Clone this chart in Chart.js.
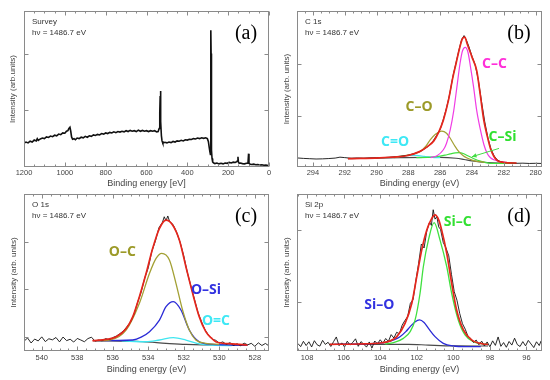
<!DOCTYPE html>
<html>
<head>
<meta charset="utf-8">
<script src="https://cdn.jsdelivr.net/npm/chart.js@4.4.1/dist/chart.umd.min.js"></script>
<style>
  body { margin: 0; background: #fff; }
  #wrap { position: relative; width: 550px; height: 380px; overflow: hidden; }
  canvas { position: absolute; }
</style>
</head>
<body>
<div id="wrap">
  <canvas id="pa" width="275" height="192" style="left:0;top:0"></canvas>
  <canvas id="pb" width="275" height="192" style="left:275px;top:0"></canvas>
  <canvas id="pc" width="275" height="190" style="left:0;top:190px"></canvas>
  <canvas id="pd" width="275" height="190" style="left:275px;top:190px"></canvas>
</div>
<script>
// values: [binding energy, intensity]
const survey = [[1200,42],[1190,44],[1180,42.5],[1170,45.5],[1160,44],[1150,47.5],[1140,46],[1135,50],[1130,47],[1120,49.5],[1110,51],[1100,50],[1090,53],[1080,52],[1070,54.5],[1060,53.5],[1050,56],[1040,55],[1030,58],[1020,57],[1010,60],[1000,59.5],[992,63],[985,64],[980,68],[975,70],[971,63],[967,53],[962,49],[955,50],[948,48],[940,51],[930,50],[920,52.5],[910,51.5],[900,54],[890,52.5],[880,55],[870,54],[860,56.5],[850,55.5],[840,57.5],[830,56.5],[820,59],[810,58],[800,60],[790,59],[780,61],[770,60],[760,62],[750,60.5],[740,62.5],[730,61.5],[720,63],[710,62],[700,64],[690,62.5],[680,64.5],[670,63],[660,64],[650,62.5],[640,65],[630,63],[620,64.5],[610,63],[600,64],[590,62.5],[580,64],[570,63],[560,64],[550,62],[543,62.5],[538,68],[535,95],[533,125],[532,134],[531,120],[529,80],[527,55],[524,46],[520,42],[510,43.5],[500,42.5],[490,44],[480,43],[470,45],[460,44],[450,46],[440,45.5],[430,47],[420,46],[410,48],[400,47.5],[390,49],[380,48.5],[370,50],[360,49.5],[350,51],[340,50],[330,51.5],[320,50.5],[310,51.5],[302,50],[297,45],[293,35],[289,26],[287,22],[285.5,90],[284.5,241],[283.5,200],[282.5,90],[281,30],[279,15],[276,9],[272,7.5],[265,6],[255,7],[245,5.5],[235,6.5],[225,5.5],[215,7],[205,6.5],[195,8],[185,7],[175,8.5],[165,8],[158,9.5],[154,11],[152,18],[150,9],[146,6.5],[140,7],[130,6],[120,5.5],[110,6.5],[103,7],[100,23.5],[98,7],[94,5],[85,4.5],[75,5],[65,4],[55,4.5],[45,3.5],[35,4],[25,3],[15,3.5],[5,2.5],[0,2]];

const c1sData = [[295,4.4],[294.6,4.1],[294.2,3.9],[293.8,3.7],[293.4,3.8],[293,4.0],[292.6,4.3],[292.3,4.9],[292,4.6],[291.6,4.2],[291.2,4.3],[290.8,4.1],[290.4,4.4],[290,4.5],[289.6,4.6],[289.2,4.8],[288.8,5.2],[288.4,5.6],[288,6.2],[287.6,7.2],[287.2,8.9],[286.8,11.6],[286.5,14.5],[286.2,19.5],[286.0,23],[285.8,29.5],[285.6,37],[285.4,46],[285.2,57.5],[285.0,66.5],[284.8,75.5],[284.65,81.5],[284.5,84],[284.35,81],[284.2,77],[284.0,70.5],[283.8,65],[283.6,55],[283.4,41],[283.2,28],[283.0,17.5],[282.8,10],[282.6,5.6],[282.4,3.0],[282.2,1.9],[282,1.4],[281.6,1.1],[281.2,0.9],[280.8,1.0],[280.4,0.8],[280,0.9],[279.6,0.8]];
const c1sFit = [[291.8,3.9],[291.0,4.1],[290.1,4.3],[289.0,4.9],[288.1,5.8],[287.3,8.5],[286.8,11.8],[286.4,15.5],[286.1,21],[285.8,29],[285.5,41],[285.2,57],[285.0,66],[284.8,75],[284.6,82],[284.45,83],[284.3,78.5],[284.0,70],[283.7,61],[283.5,47],[283.26,29],[283.05,19],[282.84,10.5],[282.63,5.5],[282.42,2.8],[282.2,1.8],[281.7,1.2],[281.2,1.1]];
const c1sCC = [[286.6,4.6],[286.2,5.8],[285.8,9.7],[285.6,14],[285.37,22.6],[285.15,35],[284.95,50.5],[284.75,66],[284.6,74],[284.42,76.3],[284.25,73],[284.1,64],[283.9,50.5],[283.7,35],[283.47,22.6],[283.25,13],[283.05,7.5],[282.84,4.5],[282.63,3.2],[282.3,2.2],[281.8,1.5]];
const c1sCO = [[288.9,4.6],[288.5,5.4],[288.0,6.3],[287.6,7.3],[287.26,8.6],[286.9,12],[286.63,16.1],[286.3,19.8],[285.9,21.9],[285.6,20.5],[285.37,17.2],[285.1,12.5],[284.84,8.6],[284.55,5.8],[284.31,4.3],[284.0,3],[283.68,2.2],[283.2,1.6]];
const c1sCSi = [[287.5,4.6],[286.8,4.7],[286.42,5.0],[286.0,5.6],[285.7,6.2],[285.37,7.0],[285.05,7.7],[284.8,7.9],[284.55,7.3],[284.3,6.0],[284.1,5.0],[283.8,3.5],[283.47,2.3],[283.1,1.3],[282.84,0.9],[282.4,0.8],[281.8,0.8],[281.3,0.8]];
const c1sCeqO = [[289.8,4.4],[289.0,4.8],[288.4,5.5],[287.9,6.0],[287.5,6.0],[287.0,5.4],[286.5,4.8],[286.0,4.6]];
const c1sBg = [[291.8,4.0],[290,4.3],[288.5,4.6],[287,4.8],[286,4.8],[285,4.2],[284.5,3.4],[284,2.5],[283.5,1.8],[283,1.3],[282,1.0],[281.2,0.9]];

const o1sData = [[541.0,6.2],[540.8,8.3],[540.6,5.1],[540.4,7.6],[540.2,6.4],[540.0,9.0],[539.8,6.0],[539.6,7.8],[539.4,7.1],[539.2,8.6],[539.0,5.8],[538.8,8.9],[538.6,6.6],[538.4,7.5],[538.2,5.7],[538.0,8.0],[537.8,7.0],[537.6,5.9],[537.4,7.9],[537.2,8.8],[537.0,6.3],[536.8,7.0],[536.6,6.5],[536.4,7.9],[536.2,7.2],[536.0,8.5],[535.8,9.5],[535.6,11.0],[535.4,12.8],[535.2,15.5],[535.0,18.5],[534.8,23.5],[534.6,31.0],[534.4,37.5],[534.2,46.5],[534.0,53.0],[533.8,63.5],[533.6,70.0],[533.4,78.5],[533.2,82.0],[533.1,85.5],[533.0,83.0],[532.9,86.0],[532.8,82.5],[532.6,80.5],[532.4,75.5],[532.2,69.0],[532.0,60.5],[531.8,50.0],[531.6,41.5],[531.4,33.0],[531.2,24.5],[531.0,18.5],[530.8,13.5],[530.6,10.0],[530.4,7.5],[530.2,6.8],[530.0,5.0],[529.8,5.8],[529.6,4.2],[529.4,5.3],[529.2,3.6],[529.0,4.6],[528.8,3.4],[528.6,5.0],[528.4,3.9],[528.2,4.9],[528.0,3.0],[527.8,5.2],[527.6,3.5],[527.4,4.8],[527.2,3.2]];
const o1sFit = [[537.15,6.6],[536.36,7.4],[535.8,9.1],[535.24,14.4],[534.87,21.9],[534.5,34.6],[534.12,49.5],[533.75,65.4],[533.37,78.1],[533.0,83.4],[532.63,80.3],[532.25,70.7],[531.88,53.7],[531.5,36.7],[531.13,21.9],[530.76,12.3],[530.45,8.3],[530.2,5.9],[529.26,4.5],[528.42,3.8]];
const o1sOC = [[537.1,6.6],[536.18,7.0],[535.24,13.4],[534.5,30.4],[533.93,49.5],[533.56,59.0],[533.24,62.2],[532.81,58.0],[532.44,43.1],[532.07,26.1],[531.69,13.4],[531.32,7.0],[530.76,4.9],[530.0,4.2]];
const o1sOSi = [[537.1,6.6],[536.74,6.6],[534.87,7.0],[534.4,8.8],[533.93,12.3],[533.37,19.7],[533.0,28.2],[532.59,31.4],[532.16,26.1],[531.69,13.4],[531.13,5.9],[530.38,4.2],[529.26,3.8],[528.42,3.7]];
const o1sOeqC = [[535.5,6.4],[534.12,5.9],[533.37,7.0],[532.59,8.5],[531.88,7.0],[531.13,4.5],[530.2,3.6],[529.3,3.5]];
const o1sBg = [[537.1,6.6],[534.3,5.9],[533.0,4.9],[531.88,4.2],[528.42,3.6]];

const si2pData = [[108.5,4.8],[108.35,2.8],[108.2,6.2],[108.05,3.5],[107.9,5.9],[107.75,2.6],[107.6,6.6],[107.45,4.0],[107.3,3.1],[107.15,6.8],[107.0,4.2],[106.85,5.6],[106.7,2.9],[106.55,6.0],[106.4,9.0],[106.25,3.4],[106.1,5.2],[105.95,2.6],[105.8,6.3],[105.65,3.8],[105.5,5.5],[105.35,7.8],[105.2,3.0],[105.05,6.0],[104.9,4.4],[104.75,2.5],[104.6,5.8],[104.45,1.9],[104.3,6.4],[104.15,4.6],[104.0,7.2],[103.85,5.0],[103.7,8.0],[103.55,6.2],[103.4,10.5],[103.25,8.3],[103.1,12.0],[102.95,11.0],[102.8,16.5],[102.65,19.5],[102.5,22.0],[102.35,30.5],[102.2,33.0],[102.05,45.0],[101.9,56.0],[101.75,68.5],[101.6,66.0],[101.45,77.0],[101.3,82.5],[101.2,80.5],[101.1,90.5],[101.0,84.5],[100.9,86.0],[100.8,79.5],[100.7,78.0],[100.55,69.5],[100.4,66.0],[100.25,61.0],[100.1,49.0],[99.95,38.0],[99.8,32.5],[99.65,24.0],[99.5,17.5],[99.35,14.0],[99.2,9.5],[99.05,8.0],[98.9,5.5],[98.75,7.0],[98.6,4.0],[98.45,6.3],[98.3,3.2],[98.15,5.8],[98.0,2.7],[97.85,6.5],[97.7,3.6],[97.55,9.0],[97.4,3.0],[97.25,5.4],[97.1,2.4],[96.95,6.1],[96.8,3.8],[96.65,8.2],[96.5,4.1],[96.35,2.9],[96.2,6.0],[96.05,3.3],[95.9,6.8],[95.75,4.5],[95.6,2.2],[95.45,5.9],[95.3,3.5],[95.2,6.5]];
const si2pFit = [[106.76,4.3],[105.18,4.5],[103.9,5.3],[103.45,6.5],[103.09,9.2],[102.64,17.7],[102.27,30.6],[102.0,47.6],[101.73,64.7],[101.45,77.6],[101.2,84.5],[101.0,87.2],[100.8,84],[100.64,77.6],[100.36,62.6],[100.09,43.4],[99.82,26.3],[99.45,13.5],[99.0,7.1],[98.36,4.5],[98.1,4.3]];
const si2pSiC = [[103.73,4.5],[103.27,5.3],[102.73,8.1],[102.36,12.4],[102.09,19.9],[101.82,37.0],[101.64,54.0],[101.36,71.2],[101.05,82.2],[100.73,71.2],[100.36,54.0],[100.09,37.0],[99.73,19.9],[99.36,10.3],[98.91,6.0],[98.36,4.5],[98.1,4.3]];
const si2pSiO = [[106.5,4.3],[105.2,4.4],[104.3,4.8],[103.8,5.3],[103.45,6.3],[103.1,7.9],[102.9,9.3],[102.6,12.4],[102.36,15.6],[102.1,18.6],[101.85,19.9],[101.6,18.2],[101.36,14.5],[101.0,9.2],[100.55,4.9],[100.0,3.2],[99.3,2.8],[98.5,2.8]];
const si2pBg = [[106.76,4.3],[104.0,4.3],[102.45,4.3],[101.36,3.8],[100.0,3.3],[98.1,3.2]];

// y tick marks (no labels on the y axes)
const surveyTicksY = [100, 200];
const c1sTicksY = [31.6, 65.6];
const o1sTicksY = [9.1, 39.3, 69.6];
const si2pTicksY = [31.6, 77.6];

const RED = '#e5261c', MAG = '#f03ce4', OLIVE = '#a3a034', GREEN = '#3fe03f', CYAN = '#40e6f0', BLUE = '#2a2ad6', BG = '#4a4a4a', DATA = '#111';

Chart.defaults.font.family = '"Liberation Sans", Arial, sans-serif';

// frame, inward ticks and the texts inside each panel
const inner = {
  id: 'inner',
  afterDraw(chart, args, o) {
    const ctx = chart.ctx, a = chart.chartArea, sx = chart.scales.x, sy = chart.scales.y;
    const L = Math.round(a.left) + 0.5, R = Math.round(a.right) - 0.5;
    const T = Math.round(a.top) + 0.5, B = Math.round(a.bottom) - 0.5;
    ctx.save();
    ctx.strokeStyle = '#8a8a8a';
    ctx.lineWidth = 1;
    ctx.strokeRect(L, T, R - L, B - T);
    ctx.beginPath();
    const lo = Math.min(sx.min, sx.max), hi = Math.max(sx.min, sx.max);
    for (let v = Math.ceil(lo / o.minor) * o.minor; v <= hi + 1e-9; v += o.minor) {
      const px = Math.round(sx.getPixelForValue(v)) + 0.5;
      const r = v / o.major;
      const len = Math.abs(r - Math.round(r)) < 1e-6 ? 4 : 2;
      ctx.moveTo(px, B); ctx.lineTo(px, B - len);
      ctx.moveTo(px, T); ctx.lineTo(px, T + len);
    }
    o.yTicks.forEach(v => {
      const py = Math.round(sy.getPixelForValue(v)) + 0.5;
      ctx.moveTo(L, py); ctx.lineTo(L + 4, py);
      ctx.moveTo(R, py); ctx.lineTo(R - 4, py);
    });
    ctx.stroke();

    ctx.fillStyle = '#333';
    ctx.font = '8px "Liberation Sans", Arial, sans-serif';
    ctx.textBaseline = 'middle';
    ctx.textAlign = 'left';
    ctx.fillText(o.head, a.left + 8, a.top + 11);
    ctx.fillText('hν = 1486.7 eV', a.left + 8, a.top + 22);

    ctx.fillStyle = '#000';
    ctx.font = '20px "Liberation Serif", "Times New Roman", serif';
    ctx.textAlign = 'center';
    ctx.fillText(o.letter, a.right - 23, a.top + 23);

    ctx.font = 'bold 14px "Open Sans", sans-serif';
    (o.labels || []).forEach(l => {
      ctx.fillStyle = l.color;
      ctx.fillText(l.text, sx.getPixelForValue(l.at[0]), sy.getPixelForValue(l.at[1]));
    });

    if (o.arrow) {
      const x1 = sx.getPixelForValue(o.arrow.from[0]), y1 = sy.getPixelForValue(o.arrow.from[1]);
      const x2 = sx.getPixelForValue(o.arrow.to[0]), y2 = sy.getPixelForValue(o.arrow.to[1]);
      const ang = Math.atan2(y2 - y1, x2 - x1);
      ctx.strokeStyle = o.arrow.color;
      ctx.fillStyle = o.arrow.color;
      ctx.lineWidth = 1;
      ctx.beginPath();
      ctx.moveTo(x1, y1); ctx.lineTo(x2, y2);
      ctx.stroke();
      ctx.beginPath();
      ctx.moveTo(x2, y2);
      ctx.lineTo(x2 - 5 * Math.cos(ang - 0.45), y2 - 5 * Math.sin(ang - 0.45));
      ctx.lineTo(x2 - 5 * Math.cos(ang + 0.45), y2 - 5 * Math.sin(ang + 0.45));
      ctx.closePath();
      ctx.fill();
    }
    ctx.restore();
  }
};

function makePanel(id, o) {
  return new Chart(document.getElementById(id), {
    type: 'line',
    data: {
      datasets: o.sets.map(s => ({
        data: s.pts.map(p => ({ x: p[0], y: p[1] })),
        borderColor: s.color,
        borderWidth: s.w,
        pointRadius: 0,
        fill: false,
        cubicInterpolationMode: s.smooth ? 'monotone' : 'default',
        tension: 0
      }))
    },
    options: {
      responsive: false,
      animation: false,
      events: [],
      layout: { padding: { top: o.padTop, right: o.padRight, left: 0, bottom: 0 } },
      plugins: { legend: { display: false }, tooltip: { enabled: false }, inner: o.inner },
      scales: {
        x: {
          type: 'linear', reverse: true, min: o.xMin, max: o.xMax,
          grid: { display: false, drawTicks: false },
          border: { display: false },
          ticks: {
            stepSize: o.step, includeBounds: false, autoSkip: false, maxRotation: 0,
            padding: o.tickPad, color: '#444', font: { size: 7.5 },
            callback: v => String(v)
          },
          title: { display: true, text: o.xTitle, color: '#444', font: { size: 9 }, padding: { top: 0, bottom: o.titlePad } },
          afterFit: s => { s.height = o.xH; }
        },
        y: {
          min: o.yMin, max: o.yMax,
          grid: { display: false, drawTicks: false },
          border: { display: false },
          ticks: { display: false },
          title: { display: true, text: o.yTitle, color: '#444', font: { size: 8 }, padding: { top: o.yTitlePad, bottom: 0 } },
          afterFit: s => { s.width = o.yW; }
        }
      }
    },
    plugins: [inner]
  });
}

// first dataset in each list is drawn on top
makePanel('pa', {
  sets: [{ pts: survey, color: DATA, w: 1.6 }],
  xMin: 0, xMax: 1200, step: 200, yMin: 0, yMax: 275,
  padTop: 11, padRight: 6, xH: 25, yW: 24, tickPad: 1.5, titlePad: 2.6, yTitlePad: 8,
  xTitle: 'Binding energy [eV]', yTitle: 'Intensity (arb.units)',
  inner: { minor: 50, major: 200, yTicks: surveyTicksY, head: 'Survey', letter: '(a)' }
});

makePanel('pb', {
  sets: [
    { pts: c1sFit, color: RED, w: 1.7, smooth: true },
    { pts: c1sData, color: DATA, w: 0.9 },
    { pts: c1sCC, color: MAG, w: 1.2, smooth: true },
    { pts: c1sCO, color: OLIVE, w: 1.2, smooth: true },
    { pts: c1sCSi, color: GREEN, w: 1.2, smooth: true },
    { pts: c1sCeqO, color: CYAN, w: 1.2, smooth: true },
    { pts: c1sBg, color: BG, w: 1.2, smooth: true }
  ],
  xMin: 279.6, xMax: 295, step: 2, yMin: -1.5, yMax: 100,
  padTop: 11, padRight: 8, xH: 25, yW: 22, tickPad: 1.5, titlePad: 2.6, yTitlePad: 7,
  xTitle: 'Binding energy (eV)', yTitle: 'Intensity (arb. units)',
  inner: {
    minor: 0.5, major: 2, yTicks: c1sTicksY, head: 'C 1s', letter: '(b)',
    labels: [
      { text: 'C–C', at: [282.59, 65.8], color: '#ff2fd9' },
      { text: 'C–O', at: [287.33, 37.4], color: '#9c9a28' },
      { text: 'C=O', at: [288.84, 14.8], color: '#3ee8f5' },
      { text: 'C–Si', at: [282.08, 18.1], color: '#30e030' }
    ],
    arrow: { from: [282.3, 10.6], to: [284.0, 5.2], color: '#44dd44' }
  }
});

makePanel('pc', {
  sets: [
    { pts: o1sFit, color: RED, w: 1.7, smooth: true },
    { pts: o1sData, color: DATA, w: 0.9 },
    { pts: o1sOC, color: OLIVE, w: 1.3, smooth: true },
    { pts: o1sOSi, color: BLUE, w: 1.3, smooth: true },
    { pts: o1sOeqC, color: CYAN, w: 1.3, smooth: true },
    { pts: o1sBg, color: BG, w: 1.2, smooth: true }
  ],
  xMin: 527.2, xMax: 541, step: 2, yMin: 0, yMax: 100,
  padTop: 4, padRight: 6, xH: 29, yW: 24, tickPad: 2.5, titlePad: 4.6, yTitlePad: 9,
  xTitle: 'Binding energy (eV)', yTitle: 'Intensity (arb. units)',
  inner: {
    minor: 0.5, major: 2, yTicks: o1sTicksY, head: 'O 1s', letter: '(c)',
    labels: [
      { text: 'O–C', at: [535.46, 63.1], color: '#9c9a28' },
      { text: 'O–Si', at: [530.75, 38.9], color: '#3232e0' },
      { text: 'O=C', at: [530.19, 19.1], color: '#3ee8f5' }
    ]
  }
});

makePanel('pd', {
  sets: [
    { pts: si2pFit, color: RED, w: 1.7, smooth: true },
    { pts: si2pData, color: DATA, w: 0.9 },
    { pts: si2pSiC, color: GREEN, w: 1.3, smooth: true },
    { pts: si2pSiO, color: BLUE, w: 1.3, smooth: true },
    { pts: si2pBg, color: BG, w: 1.2, smooth: true }
  ],
  xMin: 95.15, xMax: 108.55, step: 2, yMin: 0, yMax: 100.6,
  padTop: 4, padRight: 8, xH: 29, yW: 22, tickPad: 2.5, titlePad: 4.6, yTitlePad: 7,
  xTitle: 'Binding energy (eV)', yTitle: 'Intensity (arb. units)',
  inner: {
    minor: 0.5, major: 2, yTicks: si2pTicksY, head: 'Si 2p', letter: '(d)',
    labels: [
      { text: 'Si–C', at: [99.76, 82.9], color: '#33e033' },
      { text: 'Si–O', at: [104.05, 29.5], color: '#3232e0' }
    ]
  }
});
</script>
</body>
</html>
